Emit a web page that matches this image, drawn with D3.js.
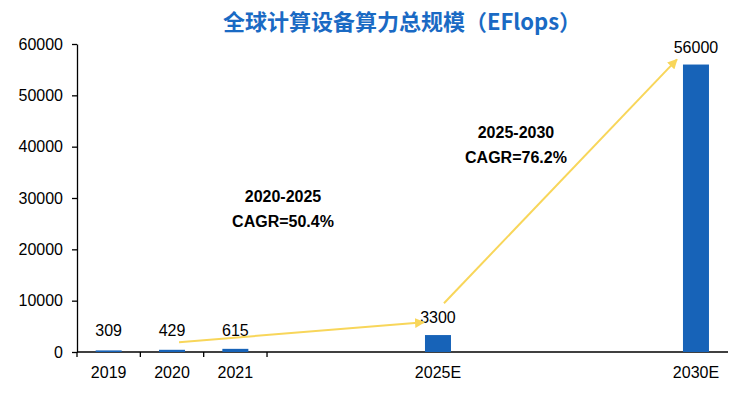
<!DOCTYPE html>
<html>
<head>
<meta charset="utf-8">
<script src="https://cdn.jsdelivr.net/npm/d3@7"></script>
<style>
  html, body { margin: 0; padding: 0; background: #ffffff; }
  svg { display: block; font-family: "Liberation Sans", Arial, sans-serif; }
</style>
</head>
<body>
<div id="chart"></div>
<script>
// Data
const categories = ['2019', '2020', '2021', '2025E', '2030E'];
const years = [2019, 2020, 2021, 2025, 2030];
const values = [309, 429, 615, 3300, 56000];
const yTicks = [0, 10000, 20000, 30000, 40000, 50000, 60000];
const cagrNotes = [
    { period: '2020-2025', rate: 'CAGR=50.4%', from: 2020, to: 2025 },
    { period: '2025-2030', rate: 'CAGR=76.2%', from: 2025, to: 2030 }
];

const width = 746;
const height = 400;
const margin = { top: 44, right: 18, bottom: 48, left: 77 };
const plotW = width - margin.left - margin.right;
const plotH = height - margin.top - margin.bottom;

const svg = d3.select('#chart').append('svg')
    .attr('width', width)
    .attr('height', height);

// Title
svg.append('text')
    .attr('x', 402)
    .attr('y', 30)
    .attr('text-anchor', 'middle')
    .style('font-family', '"Noto Sans CJK SC", sans-serif')
    .style('font-size', '22px')
    .style('font-weight', 'bold')
    .style('fill', '#1a6ac4')
    .text('全球计算设备算力总规模（EFlops）');

const g = svg.append('g')
    .attr('transform', `translate(${margin.left},${margin.top})`);

// x is a broken time axis: history years are wider than forecast years
const x = d3.scaleLinear()
    .domain([2018.5, 2021.5, 2025, 2030, 2030.62])
    .range([0, plotW * 0.2919, plotW * 0.5545, plotW * 0.9508, plotW]);

const y = d3.scaleLinear()
    .domain([0, 60000])
    .range([plotH, 0]);

const barW = 26;

// y axis
const yAxis = g.append('g')
    .call(d3.axisLeft(y).tickValues(yTicks).tickFormat(d3.format('d'))
        .tickSize(5).tickSizeOuter(0).tickPadding(9));
yAxis.select('.domain').attr('stroke', '#000').attr('stroke-width', 1.3);
yAxis.selectAll('.tick line').attr('stroke', '#000').attr('stroke-width', 1.3);
yAxis.selectAll('text')
    .style('font-family', '"Liberation Sans", Arial, sans-serif')
    .style('font-size', '16px')
    .style('fill', '#000');

// x axis
const xg = g.append('g').attr('transform', `translate(0,${plotH})`);
xg.append('line')
    .attr('x1', 0).attr('x2', plotW)
    .attr('stroke', '#000').attr('stroke-width', 1.5);
xg.selectAll('line.tick')
    .data([2018.5, 2019.5, 2020.5, 2021.5])
    .join('line')
    .attr('class', 'tick')
    .attr('x1', d => x(d)).attr('x2', d => x(d))
    .attr('y1', 0).attr('y2', 5)
    .attr('stroke', '#000').attr('stroke-width', 1.3);
xg.selectAll('text')
    .data(categories)
    .join('text')
    .attr('x', (d, i) => x(years[i]))
    .attr('y', 26)
    .attr('text-anchor', 'middle')
    .style('font-size', '16px')
    .style('fill', '#000')
    .text(d => d);

// Bars
g.selectAll('rect.bar')
    .data(values)
    .join('rect')
    .attr('class', 'bar')
    .attr('x', (d, i) => x(years[i]) - barW / 2)
    .attr('y', d => y(d))
    .attr('width', barW)
    .attr('height', d => plotH - y(d))
    .attr('fill', '#1763b8');

// Value labels
g.selectAll('text.val')
    .data(values)
    .join('text')
    .attr('class', 'val')
    .attr('x', (d, i) => x(years[i]))
    .attr('y', d => Math.min(y(d), plotH - 4) - 12)
    .attr('text-anchor', 'middle')
    .style('font-size', '16px')
    .style('fill', '#000')
    .text(d => d);

// Arrows
svg.append('defs').append('marker')
    .attr('id', 'arrow')
    .attr('viewBox', '0 0 10 10')
    .attr('refX', 9)
    .attr('refY', 5)
    .attr('markerWidth', 5)
    .attr('markerHeight', 5)
    .attr('orient', 'auto')
    .append('path')
    .attr('d', 'M0,0 L10,5 L0,10 z')
    .attr('fill', '#f8d65a');

const arrowEnds = [
    { x1: x(2020) + 7, y1: y(1900), x2: x(2025) - 14, y2: y(5800) },
    { x1: x(2025) + 6, y1: y(9500), x2: x(2030) - 19, y2: y(57000) }
];
g.selectAll('line.arrow')
    .data(arrowEnds)
    .join('line')
    .attr('class', 'arrow')
    .attr('x1', d => d.x1).attr('y1', d => d.y1)
    .attr('x2', d => d.x2).attr('y2', d => d.y2)
    .attr('stroke', '#f8d65a')
    .attr('stroke-width', 2)
    .attr('marker-end', 'url(#arrow)');

// CAGR notes
const notePos = [
    { x: x(2020) + 111, y: y(29150) },
    { x: x(2025) + 78, y: y(41650) }
];
cagrNotes.forEach((n, i) => {
    const t = g.append('text')
        .attr('text-anchor', 'middle')
        .style('font-size', '16px')
        .style('font-weight', 'bold')
        .style('fill', '#000');
    t.append('tspan').attr('x', notePos[i].x).attr('y', notePos[i].y).text(n.period);
    t.append('tspan').attr('x', notePos[i].x).attr('y', notePos[i].y + 25).text(n.rate);
});
</script>
</body>
</html>
